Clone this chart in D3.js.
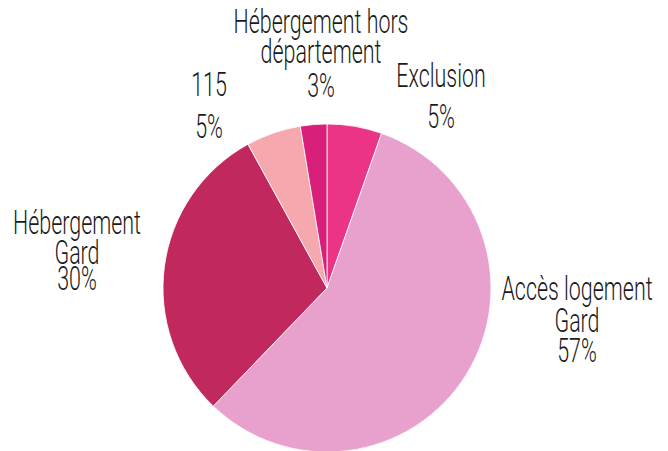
<!DOCTYPE html>
<html><head><meta charset="utf-8">
<script src="https://cdn.jsdelivr.net/npm/d3@7"></script>
<style>body{margin:0;background:#fff}svg{display:block}</style>
</head><body>
<svg id="c" width="668" height="451"></svg>
<script>
const categories = ["Exclusion", "Accès logement Gard", "Hébergement Gard", "115", "Hébergement hors département"];
const values = [5.4, 56.8, 29.8, 5.4, 2.6];
const pctLabels = ["5%", "57%", "30%", "5%", "3%"];
const colors = ["#ec3487", "#e8a1cc", "#c0285e", "#f5a8ae", "#d8207a"];

const svg = d3.select("#c");
const cx = 327, cy = 288, r = 164;
const pie = d3.pie().sort(null).value(d => d)(values);
const arc = d3.arc().innerRadius(0).outerRadius(r);
svg.append("g").attr("transform", `translate(${cx},${cy})`)
  .selectAll("path").data(pie).join("path")
  .attr("d", arc).attr("fill", (d, i) => colors[i])
  .attr("stroke", "#fff").attr("stroke-width", 0.8);

// label placements (center x, first baseline y, line offsets)
const labelPos = [
  {x: 441, y: 87, lines: ["Exclusion", pctLabels[0]], dy: [0, 41]},
  {x: 577, y: 300, lines: ["Accès logement", "Gard", pctLabels[1]], dy: [0, 32, 62]},
  {x: 77, y: 234, lines: ["Hébergement", "Gard", pctLabels[2]], dy: [0, 30, 56]},
  {x: 209, y: 96, lines: ["115", pctLabels[3]], dy: [0, 42]},
  {x: 321, y: 33, lines: ["Hébergement hors", "département", pctLabels[4]], dy: [0, 30, 64]}
];
const sx = 0.63;
labelPos.forEach((p, i) => {
  const txt = svg.append("g").attr("transform", `translate(${p.x},${p.y}) scale(${sx},1)`)
    .append("text")
    .attr("text-anchor", "middle")
    .attr("font-family", "Roboto, 'DejaVu Sans', sans-serif")
    .attr("font-weight", 300)
    .attr("font-size", 34)
    .attr("fill", "#1a1a1a");
  p.lines.forEach((t, j) => {
    txt.append("tspan").attr("x", 0).attr("y", p.dy[j]).text(t);
  });
});
</script>
</body></html>
